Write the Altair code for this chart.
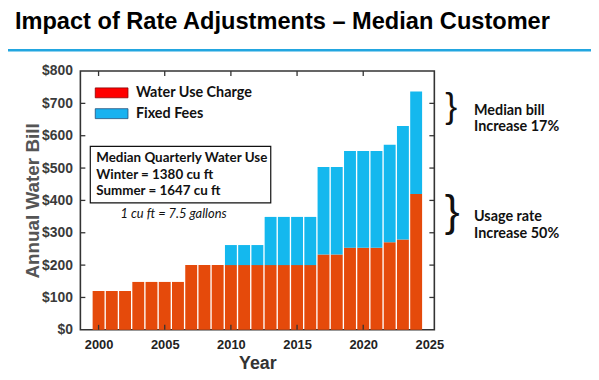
import altair as alt
import pandas as pd

# ---- data ----
years = list(range(2000, 2025))
usage_charge = [120, 120, 120, 148, 148, 148, 148, 200, 200, 200,
                200, 200, 200, 200, 200, 200, 200, 233, 233, 254,
                254, 254, 271, 279, 420]
total_bill = [120, 120, 120, 148, 148, 148, 148, 200, 200, 200,
              262, 262, 262, 349, 349, 349, 349, 503, 503, 553,
              553, 553, 572, 630, 737]
components = ["Water Use Charge", "Fixed Fees"]
x_tick_values = [2000, 2005, 2010, 2015, 2020, 2025]
y_tick_values = [0, 100, 200, 300, 400, 500, 600, 700, 800]
title_text = "Impact of Rate Adjustments \u2013 Median Customer"
box_lines = ["Median Quarterly Water Use", "Winter = 1380 cu ft", "Summer = 1647 cu ft"]
conversion_note = "1 cu ft = 7.5 gallons"
note_bill = ["Median bill", "Increase 17%"]
note_usage = ["Usage rate", "Increase 50%"]

W, H = 357, 261
BAR_RED = "#E54A0B"
BAR_BLUE = "#14B8EE"
FRAME = "#333333"
CAL = "Lato"
ARIAL = "Liberation Sans"

rows = []
for yr, u, t in zip(years, usage_charge, total_bill):
    rows.append({"year": yr, "start": 0, "end": u, "component": components[0]})
    if t > u:
        rows.append({"year": yr, "start": u, "end": t, "component": components[1]})
bar_df = pd.DataFrame(rows)

x_scale = alt.Scale(domain=[1999, 2025], nice=False, zero=False)
y_scale = alt.Scale(domain=[0, 800], nice=False)
x_axis = alt.Axis(values=x_tick_values, format="d", title="Year", grid=False, ticks=False,
                  domain=False, labelFont=ARIAL, labelFontWeight="bold", labelFontSize=13,
                  labelColor="#222222", labelPadding=9, titleFont=ARIAL, titleFontSize=18,
                  titleFontWeight="bold", titleColor="#333333", titlePadding=3)
y_axis = alt.Axis(values=y_tick_values, labelExpr="'$' + datum.value", title="Annual Water Bill",
                  grid=False, ticks=False, domain=False, labelFont=ARIAL, labelFontWeight="bold",
                  labelFontSize=14, labelColor="#3a3a3a", labelPadding=8, titleFont=ARIAL,
                  titleFontSize=19, titleFontWeight="bold", titleColor="#555555", titlePadding=-1)

bars = alt.Chart(bar_df).mark_bar(size=12).encode(
    x=alt.X("year:Q", scale=x_scale, axis=x_axis),
    y=alt.Y("start:Q", scale=y_scale, axis=y_axis),
    y2="end:Q",
    color=alt.Color("component:N", scale=alt.Scale(domain=components, range=[BAR_RED, BAR_BLUE]),
                    legend=None),
)

ytick_df = pd.DataFrame({"v": y_tick_values[1:-1]})
xtick_df = pd.DataFrame({"v": x_tick_values[:-1]})
Y = alt.Y("v:Q", scale=y_scale, axis=y_axis)
X = alt.X("v:Q", scale=x_scale, axis=x_axis)
left_ticks = alt.Chart(ytick_df).mark_rule(color=FRAME, strokeWidth=1.3).encode(
    y=Y, x=alt.value(0), x2=alt.value(5))
right_ticks = alt.Chart(ytick_df).mark_rule(color=FRAME, strokeWidth=1.3).encode(
    y=Y, x=alt.value(W), x2=alt.value(W - 5))
bottom_ticks = alt.Chart(xtick_df).mark_rule(color=FRAME, strokeWidth=1.3).encode(
    x=X, y=alt.value(H), y2=alt.value(H - 5))
top_ticks = alt.Chart(xtick_df).mark_rule(color=FRAME, strokeWidth=1.3).encode(
    x=X, y=alt.value(0), y2=alt.value(5))

# ---- title and rule ----
title = alt.Chart(pd.DataFrame({"t": [title_text]})).mark_text(
    align="left", baseline="alphabetic", font=ARIAL, fontWeight="bold", fontSize=23.8, color="#000000"
).encode(text="t:N", x=alt.value(-66), y=alt.value(-42))
blue_rule = alt.Chart(pd.DataFrame({"a": [0]})).mark_rule(color="#22A6E0", strokeWidth=2.5).encode(
    x=alt.value(-81), x2=alt.value(W + 158), y=alt.value(-21))

# ---- legend ----
leg_red = alt.Chart(pd.DataFrame({"a": [0]})).mark_rect(
    fill="#FF0000", stroke="#8B0000", strokeWidth=0.8).encode(
    x=alt.value(15), x2=alt.value(48), y=alt.value(17), y2=alt.value(27))
leg_blue = alt.Chart(pd.DataFrame({"a": [0]})).mark_rect(
    fill="#19B2F0", stroke="#1F4E79", strokeWidth=0.8).encode(
    x=alt.value(15), x2=alt.value(48), y=alt.value(38), y2=alt.value(48))
leg_t1 = alt.Chart(pd.DataFrame({"t": [components[0]]})).mark_text(
    align="left", baseline="middle", font=CAL, fontWeight="bold", fontSize=14.5, color="#111111"
).encode(text="t:N", x=alt.value(56), y=alt.value(22))
leg_t2 = alt.Chart(pd.DataFrame({"t": [components[1]]})).mark_text(
    align="left", baseline="middle", font=CAL, fontWeight="bold", fontSize=14.5, color="#111111"
).encode(text="t:N", x=alt.value(56), y=alt.value(43))

# ---- text box ----
box = alt.Chart(pd.DataFrame({"a": [0]})).mark_rect(
    fill="#FFFFFF", stroke="#111111", strokeWidth=1.2).encode(
    x=alt.value(10), x2=alt.value(192), y=alt.value(76), y2=alt.value(133))
box_text = alt.Chart(pd.DataFrame({"t": [box_lines]})).mark_text(
    align="left", baseline="alphabetic", font=CAL, fontWeight="bold", fontSize=13.5,
    color="#111111", lineHeight=16.5
).encode(text="t", x=alt.value(16), y=alt.value(92))
note = alt.Chart(pd.DataFrame({"t": [conversion_note]})).mark_text(
    align="center", baseline="alphabetic", font=CAL, fontStyle="italic", fontSize=13,
    color="#111111"
).encode(text="t:N", x=alt.value(94), y=alt.value(148))

# ---- right-hand annotations ----
brace1 = alt.Chart(pd.DataFrame({"t": ["}"]})).mark_text(
    align="center", baseline="middle", font=ARIAL, fontSize=36, color="#111111"
).encode(text="t:N", x=alt.value(374), y=alt.value(36))
brace2 = alt.Chart(pd.DataFrame({"t": ["}"]})).mark_text(
    align="center", baseline="middle", font=ARIAL, fontSize=45, color="#111111"
).encode(text="t:N", x=alt.value(375), y=alt.value(142))
ann1 = alt.Chart(pd.DataFrame({"t": [note_bill]})).mark_text(
    align="left", baseline="alphabetic", font=CAL, fontWeight="bold", fontSize=14.5,
    color="#111111", lineHeight=17
).encode(text="t", x=alt.value(397), y=alt.value(44))
ann2 = alt.Chart(pd.DataFrame({"t": [note_usage]})).mark_text(
    align="left", baseline="alphabetic", font=CAL, fontWeight="bold", fontSize=14.5,
    color="#111111", lineHeight=17
).encode(text="t", x=alt.value(397), y=alt.value(151))

chart = alt.layer(
    bars, left_ticks, right_ticks, bottom_ticks, top_ticks,
    title, blue_rule, leg_red, leg_blue, leg_t1, leg_t2,
    box, box_text, note, brace1, brace2, ann1, ann2,
).properties(
    width=W, height=H,
    autosize=alt.AutoSizeParams(type="none"),
    padding={"left": 73, "top": 62, "right": 158, "bottom": 42},
).configure_view(
    stroke=FRAME, strokeWidth=1.6
)

chart.save("out.html", embed_options={"renderer": "svg", "actions": False})
